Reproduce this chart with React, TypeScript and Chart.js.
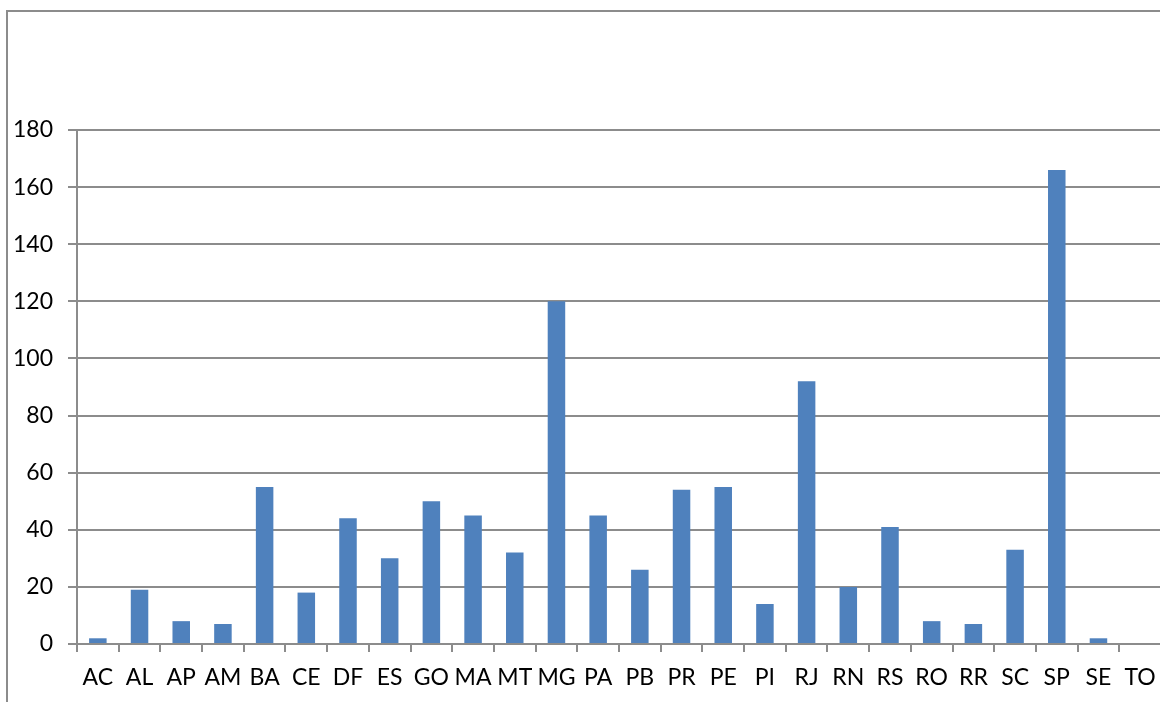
import React, { useEffect, useRef } from "react";
import { Chart, registerables } from "chart.js";

Chart.register(...registerables);

const categories = ["AC","AL","AP","AM","BA","CE","DF","ES","GO","MA","MT","MG","PA","PB","PR","PE","PI","RJ","RN","RS","RO","RR","SC","SP","SE","TO"];
const values = [2,19,8,7,55,18,44,30,50,45,32,120,45,26,54,55,14,92,20,41,8,7,33,166,2,0];
const yTicks = [0,20,40,60,80,100,120,140,160,180];

const FONT = "Lato";
const GRID = "#8c8c8c";

export default function App() {
  const ref = useRef<HTMLCanvasElement>(null);
  useEffect(() => {
    if (!ref.current) return;
    const chart = new Chart(ref.current, {
      type: "bar",
      data: {
        labels: categories,
        datasets: [{ data: values, backgroundColor: "#4F81BD", barPercentage: 0.42, categoryPercentage: 1 }],
      },
      options: {
        animation: false,
        responsive: false,
        maintainAspectRatio: false,
        layout: { padding: { top: 130, left: 0, right: 9, bottom: 0 } },
        plugins: { legend: { display: false }, tooltip: { enabled: false } },
        scales: {
          x: {
            offset: true,
            grid: { drawOnChartArea: false, drawTicks: true, tickLength: 8, color: GRID, lineWidth: 2, offset: true },
            border: { display: true, color: GRID, width: 2 },
            ticks: { color: "#000", font: { family: FONT, size: 23 }, padding: 12, maxRotation: 0, autoSkip: false },
            afterFit: (s: any) => { s.height = 58; },
          },
          y: {
            min: 0,
            max: 180,
            afterBuildTicks: (s: any) => { s.ticks = yTicks.map((v) => ({ value: v })); },
            grid: { color: GRID, lineWidth: 2, tickLength: 9, drawTicks: true },
            border: { display: true, color: GRID, width: 2 },
            ticks: { color: "#000", font: { family: FONT, size: 23 }, padding: 15 },
            afterFit: (s: any) => { s.width = 77; },
          },
        },
      },
    });
    return () => chart.destroy();
  }, []);
  return (
    <div style={{ position: "fixed", left: 0, top: 0, width: 1160, height: 702, overflow: "hidden", background: "#fff" }}>
      <div style={{ position: "absolute", left: 6, top: 10, width: 1300, height: 900, border: "2px solid #8c8c8c" }} />
      <canvas ref={ref} width={1170} height={702} style={{ position: "absolute", left: 0, top: 0 }} />
    </div>
  );
}
